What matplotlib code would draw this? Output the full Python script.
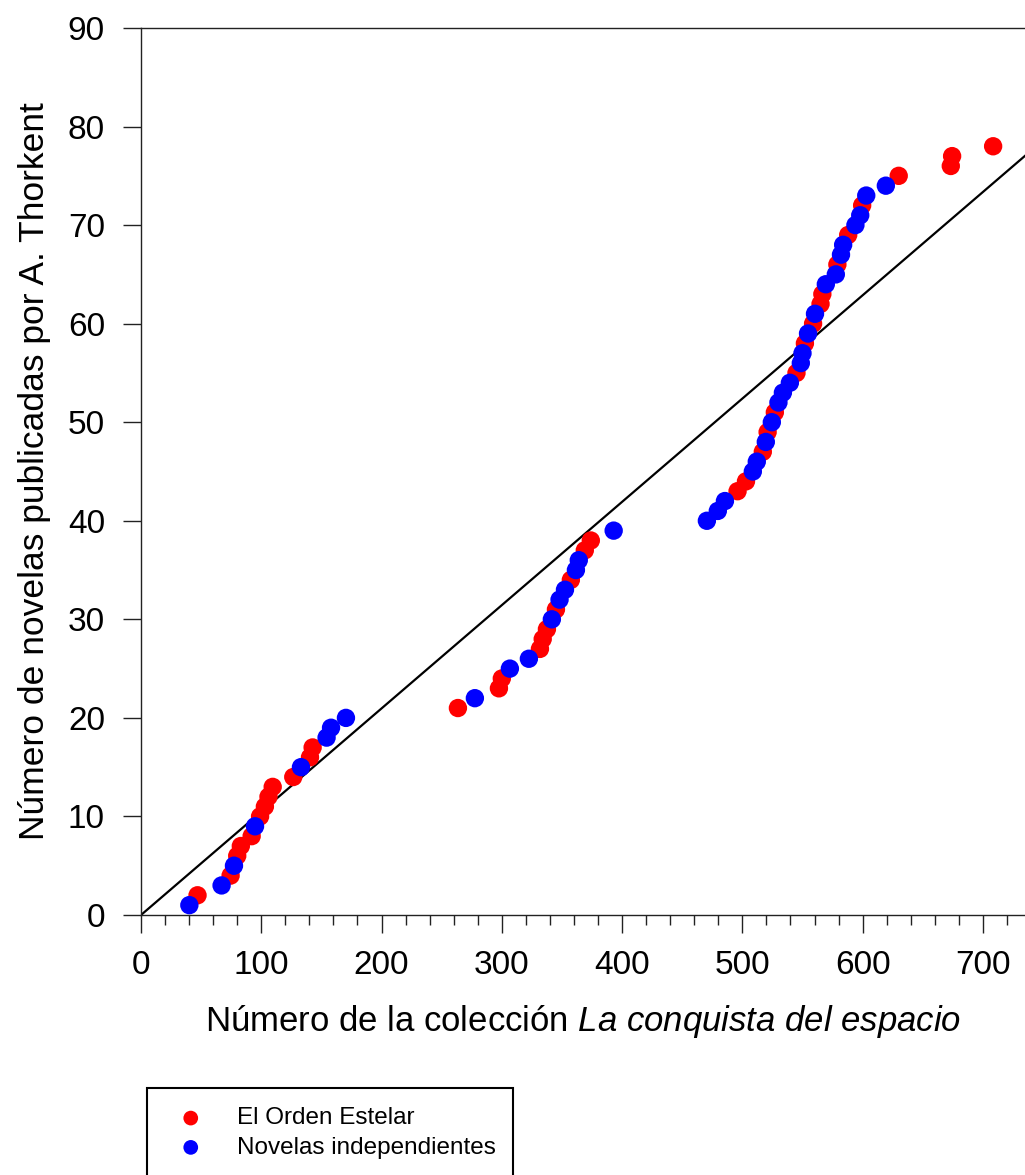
import matplotlib
matplotlib.use("Agg")
import matplotlib.pyplot as plt
import numpy as np
from matplotlib.ticker import MultipleLocator

plt.rcParams['font.family'] = ['Liberation Sans', 'DejaVu Sans']
plt.rcParams['mathtext.fontset'] = 'custom'
plt.rcParams['mathtext.rm'] = 'Liberation Sans'
plt.rcParams['mathtext.it'] = 'Liberation Sans:italic'

# ---- data ----
red_label = "El Orden Estelar"
blue_label = "Novelas independientes"

red_y = [2, 4, 6, 7, 8, 10, 11, 12, 13, 14, 16, 17,
         21, 23, 24, 27, 28, 29, 31, 34, 37, 38,
         43, 44, 47, 49, 51, 55, 58, 60, 62, 63, 66, 69, 72, 75, 76, 77, 78]
red_x = [47, 74.5, 80, 83, 92, 99, 103, 106, 109.5, 126.6, 140.5, 142.7,
         263.5, 297.6, 300, 331.7, 334, 337.5, 345, 357.4, 369, 374,
         496, 503, 517, 521, 527, 545, 552, 558.8, 565, 566.5, 579, 588, 599.6, 630, 673.3, 674.4, 708.5]

blue_y = [1, 3, 5, 9, 15, 18, 19, 20,
          22, 25, 26, 30, 32, 33, 35, 36, 39,
          40, 41, 42, 45, 46, 48, 50, 52, 53, 54, 56, 57, 59, 61, 64, 65, 67, 68, 70, 71, 73, 74]
blue_x = [40.2, 67, 77.3, 94.8, 133, 154.3, 158, 170.4,
          277.6, 306.7, 322.5, 341.6, 348, 352.5, 361.6, 364, 393,
          470.5, 479.6, 485.5, 508.7, 512, 519.5, 524.5, 530, 533.7, 539.5, 548.6, 550, 554.6,
          560.4, 569.4, 577.7, 582, 583.8, 594, 598, 603, 619.3]

line_slope = 0.1048  # reference line through the origin

y_label = "Número de novelas publicadas por A. Thorkent"
x_label = r"Número de la colección $\mathit{La\ conquista\ del\ espacio}$"

# ---- figure ----
W, H = 1025, 1175
fig = plt.figure(figsize=(W / 100, H / 100), dpi=100)
left = 141 / W
bottom = 1 - 915 / H
top = 1 - 28 / H
ax = fig.add_axes([left, bottom, 1 - left, top - bottom])

xmax = 735
ax.set_xlim(0, xmax)
ax.set_ylim(0, 90)

xs = np.array([0, xmax])
ax.plot(xs, line_slope * xs, color='black', lw=1.6, zorder=2)

ax.scatter(red_x, red_y, s=175, color='#ff0000', edgecolors='none', zorder=3, label=red_label)
ax.scatter(blue_x, blue_y, s=175, color='#0000ff', edgecolors='none', zorder=4, label=blue_label)

for side in ['left', 'bottom', 'top']:
    ax.spines[side].set_linewidth(1.0)
    ax.spines[side].set_color('#222222')
ax.spines['right'].set_visible(False)

ax.xaxis.set_major_locator(MultipleLocator(100))
ax.xaxis.set_minor_locator(MultipleLocator(20))
ax.yaxis.set_major_locator(MultipleLocator(10))
ax.tick_params(axis='both', which='major', direction='out', length=13, width=1.0,
               color='#222222', labelsize=24, pad=12)
ax.tick_params(axis='x', which='minor', direction='out', length=7, width=1.0, color='#222222')
ax.tick_params(axis='y', which='major', pad=13)

ax.set_ylabel(y_label, fontsize=25.5, labelpad=12)
ax.set_xlabel(x_label, fontsize=25, labelpad=16)

leg = fig.legend(handles=ax.collections, labels=[red_label, blue_label],
                 loc='upper left',
                 bbox_to_anchor=(147 / W, 1 - 1088 / H - 0.1, (513 - 147) / W, 0.1),
                 mode='expand', fancybox=False, edgecolor='black', framealpha=1,
                 fontsize=17.5, borderpad=0.8, handletextpad=0.9, labelspacing=0.3,
                 markerscale=0.8, borderaxespad=0)
leg.get_frame().set_linewidth(1.5)

fig.savefig("out.png", dpi=100)
